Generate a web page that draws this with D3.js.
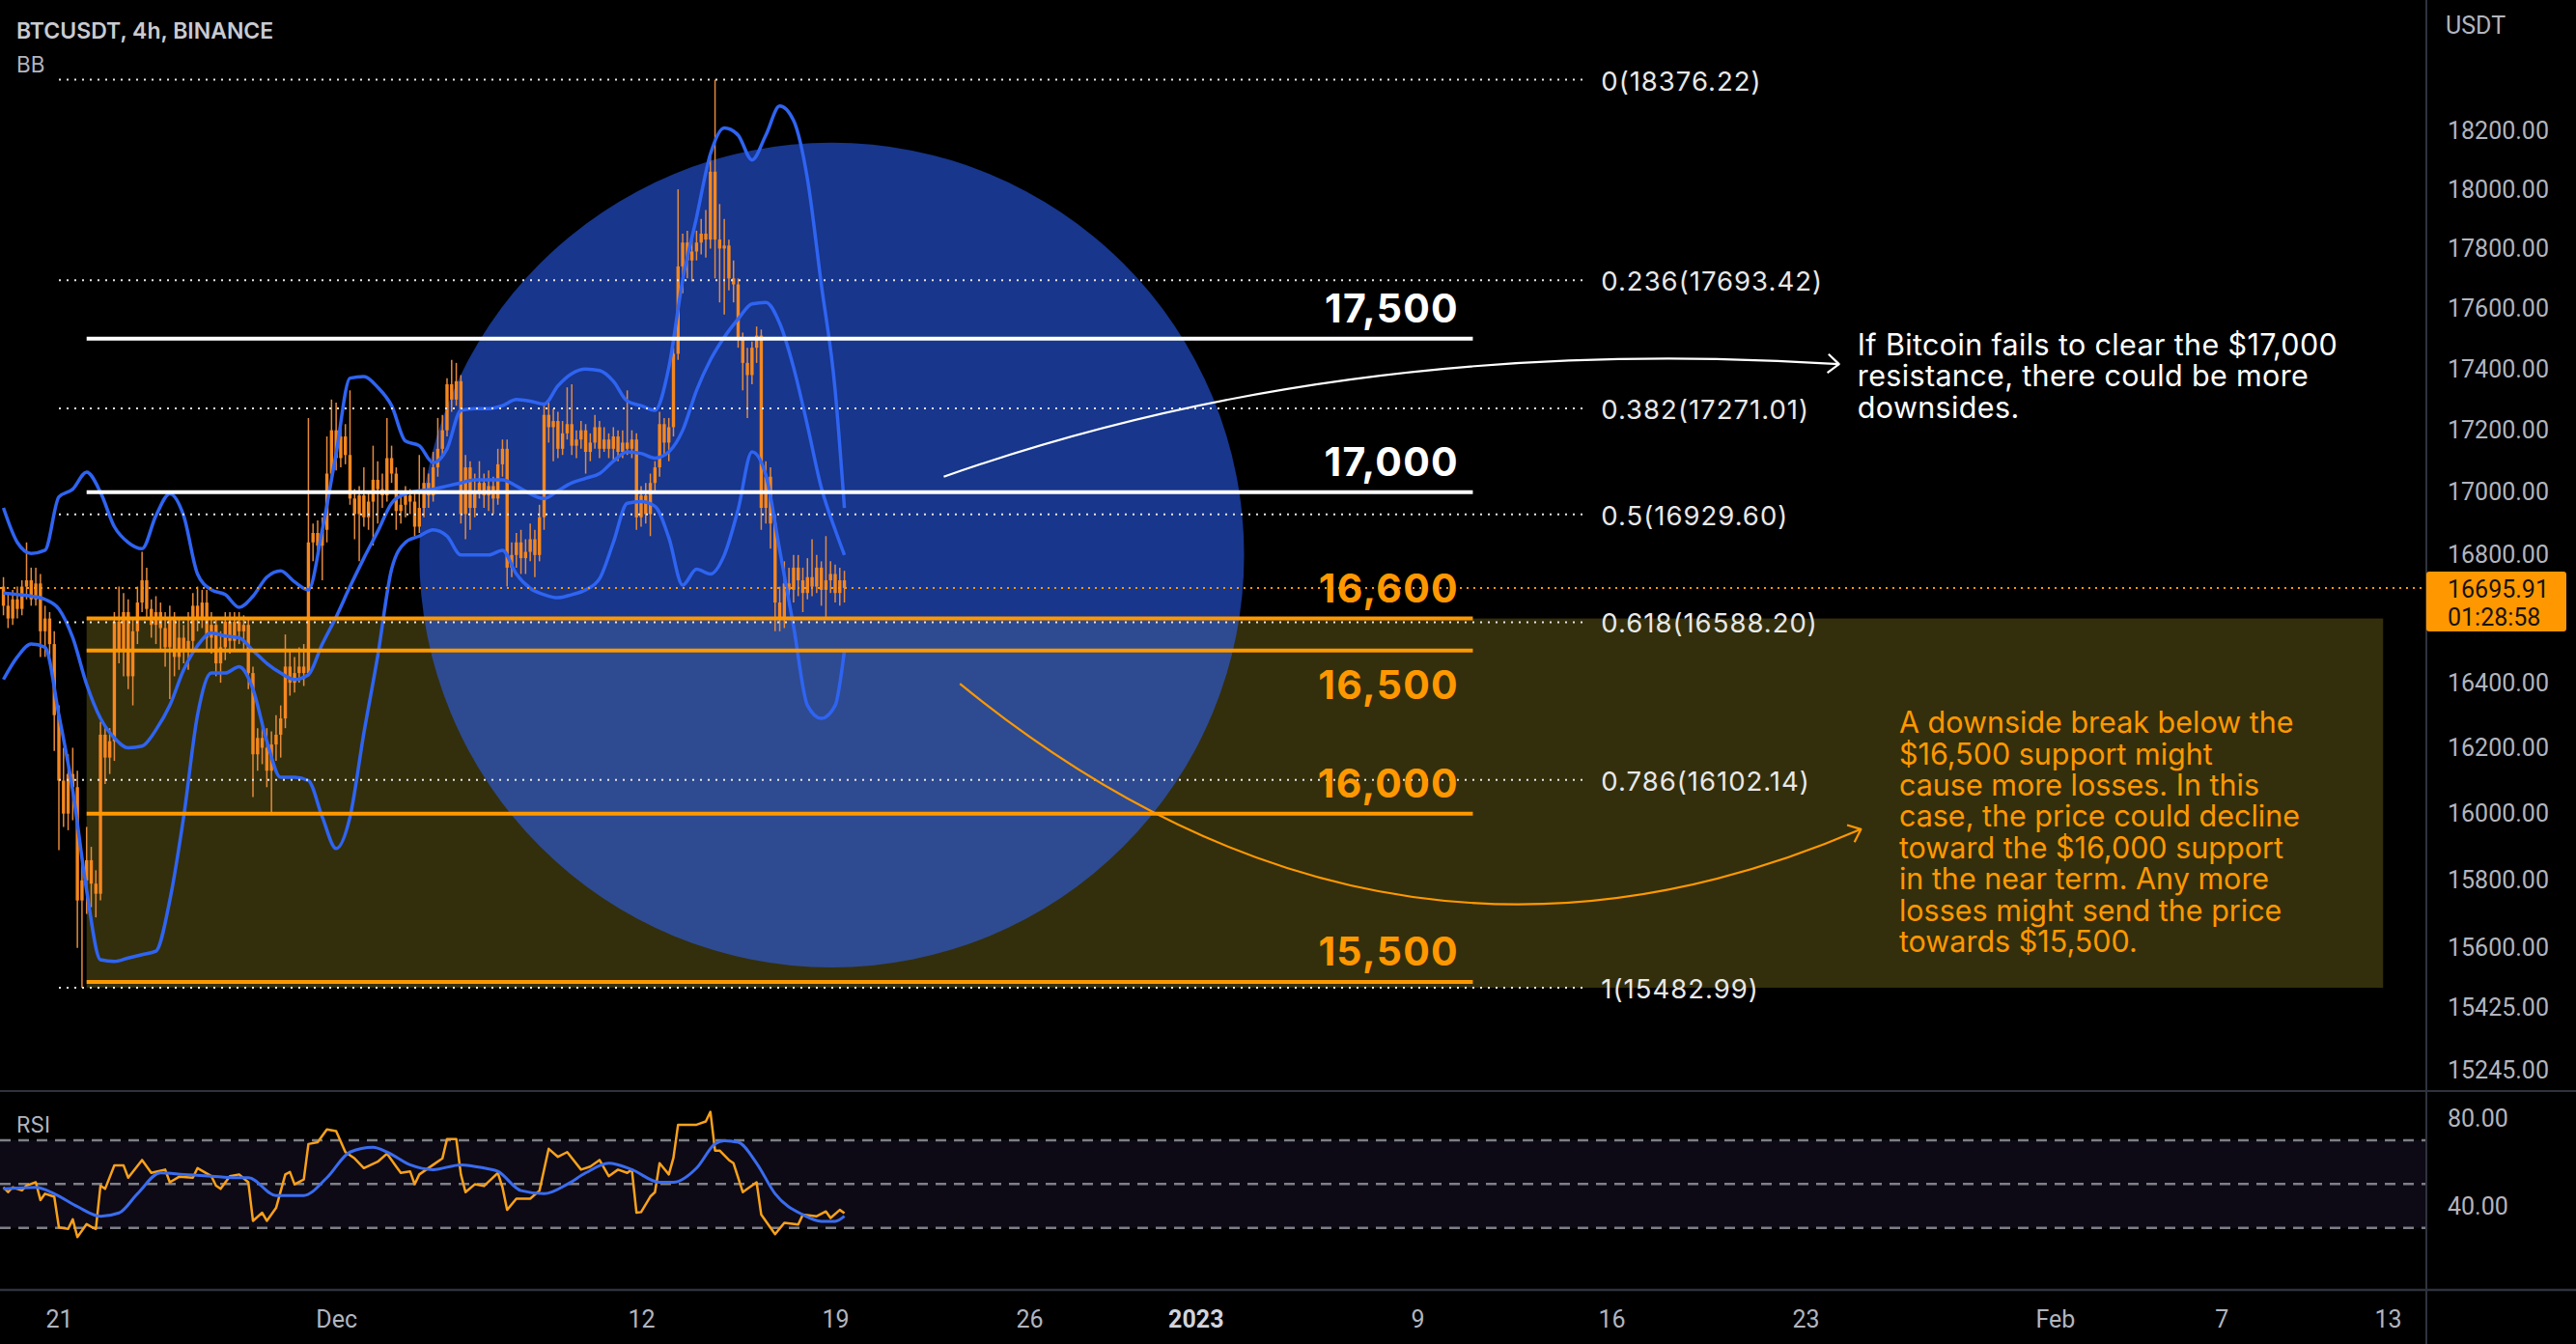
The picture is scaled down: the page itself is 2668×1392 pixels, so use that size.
<!DOCTYPE html>
<html>
<head>
<meta charset="utf-8">
<title>BTCUSDT 4h BINANCE</title>
<script src="https://cdn.jsdelivr.net/npm/d3@7/dist/d3.min.js"></script>
<style>
  html, body { margin:0; padding:0; background:#000; overflow:hidden; }
  svg { display:block; }
</style>
</head>
<body>
<svg id="chart" width="2668" height="1392"></svg>
<script>
// ---------------- DATA ----------------
const chartTitle = "BTCUSDT, 4h, BINANCE";
const candleStart = "2022-11-19T00:00:00Z";
const candleHours = 4;

const opens = [
16700,16640,16600,16660,16630,16700,16720,16660,16710,16560,
16600,16520,16300,16100,16000,16120,16080,15740,15800,15860,
15790,15760,16240,16170,16220,16590,16500,16620,16420,16560,
16650,16720,16630,16580,16620,16570,16510,16600,16480,16540,
16500,16530,16640,16600,16650,16540,16580,16460,16510,16590,
16530,16590,16560,16580,16430,16180,16230,16200,16130,16210,
16240,16290,16450,16400,16430,16450,16430,16840,16870,16830,
16880,17060,17200,17110,17180,17120,16980,16930,16990,16920,
16970,17040,17010,16990,17110,17060,16940,16960,16990,16970,
16890,16950,17030,16990,17080,17140,17200,17350,17300,17360,
16930,17080,16950,17000,17030,16990,17020,16980,17090,17140,
16760,16800,16840,16790,16810,16850,16800,16920,17250,17210,
17230,17140,17190,17220,17150,17170,17200,17130,17160,17210,
17140,17170,17140,17180,17130,17160,17140,17170,16920,16990,
16930,17030,17080,17220,17160,17210,17450,17740,17820,17760,
17790,17820,17850,17830,18060,17830,17800,17810,17700,17680,
17500,17420,17380,17470,17510,16950,17050,16900,16650,16600,
16710,16690,16760,16720,16680,16730,16700,16760,16690,16720,
16740,16680,16720];
const highs = [
16730,16680,16690,16700,16720,16840,16760,16760,16740,16640,
16620,16560,16330,16200,16180,16200,16130,15880,15960,15900,
15830,16280,16260,16260,16620,16700,16680,16660,16600,16700,
16810,16760,16660,16670,16650,16620,16640,16620,16600,16580,
16620,16680,16700,16690,16690,16620,16600,16560,16620,16620,
16620,16620,16610,16600,16450,16260,16280,16260,16250,16300,
16330,16550,16500,16480,16510,16520,17240,16900,16910,16920,
17180,17300,17290,17230,17220,17330,17010,17020,17080,17000,
17150,17100,17060,17240,17150,17080,17000,17020,17010,17000,
17120,17080,17060,17130,17240,17250,17370,17430,17420,17380,
17120,17100,17060,17100,17060,17070,17050,17140,17170,17170,
16840,16870,16880,16850,16900,16880,16960,17280,17290,17270,
17260,17230,17340,17350,17200,17230,17220,17190,17250,17230,
17210,17190,17210,17200,17200,17330,17200,17190,17020,17030,
17060,17100,17260,17240,17240,17470,18000,17850,17860,17830,
17860,17900,17930,18120,18376,17950,17900,17830,17760,17700,
17520,17470,17490,17540,17530,17100,17080,16930,16700,16780,
16760,16800,16800,16760,16790,16850,16800,16780,16860,16780,
16770,16760,16750];
const lows = [
16610,16570,16580,16600,16610,16660,16640,16640,16480,16480,
16480,16190,15890,15960,15950,15980,15600,15483,15700,15720,
15690,15740,16090,16120,16160,16460,16420,16380,16330,16520,
16620,16600,16540,16520,16500,16450,16350,16420,16440,16460,
16440,16500,16560,16570,16500,16490,16420,16400,16470,16490,
16500,16520,16500,16380,16050,16130,16150,16080,16000,16160,
16170,16260,16360,16370,16400,16390,16420,16780,16790,16720,
16840,17040,17070,17080,17090,16960,16850,16780,16890,16880,
16830,16900,16950,16970,17030,16880,16900,16920,16930,16860,
16870,16920,16950,16970,17050,17110,17180,17260,17280,16900,
16850,16880,16920,16980,16950,16940,16930,16960,17050,16700,
16730,16760,16740,16740,16780,16730,16780,16880,17160,17100,
17110,17120,17170,17120,17110,17140,17060,17100,17140,17110,
17130,17110,17100,17100,17110,17120,17110,16880,16890,16900,
16860,17000,17050,17120,17100,17180,17430,17650,17700,17690,
17760,17780,17770,17800,17700,17620,17580,17660,17620,17470,
17330,17240,17350,17420,16880,16900,16820,16560,16560,16570,
16640,16650,16670,16620,16660,16670,16680,16640,16600,16680,
16650,16640,16650];
const closes = [
16640,16600,16660,16630,16700,16720,16660,16710,16560,16600,
16520,16300,16100,16000,16120,16080,15740,15800,15860,15790,
15760,16240,16170,16220,16590,16500,16620,16420,16560,16650,
16720,16630,16580,16620,16570,16510,16600,16480,16540,16500,
16530,16640,16600,16650,16540,16580,16460,16510,16590,16530,
16590,16560,16580,16430,16180,16230,16200,16130,16210,16240,
16290,16450,16400,16430,16450,16430,16840,16870,16830,16880,
17060,17200,17110,17180,17120,16980,16930,16990,16920,16970,
17040,17010,16990,17110,17060,16940,16960,16990,16970,16890,
16950,17030,16990,17080,17140,17200,17350,17300,17360,16930,
17080,16950,17000,17030,16990,17020,16980,17090,17140,16760,
16800,16840,16790,16810,16850,16800,16920,17250,17210,17230,
17140,17190,17220,17150,17170,17200,17130,17160,17210,17140,
17170,17140,17180,17130,17160,17140,17170,16920,16990,16930,
17030,17080,17220,17160,17210,17450,17740,17820,17760,17790,
17820,17850,17830,18060,17830,17800,17810,17700,17680,17500,
17420,17380,17470,17510,16950,17050,16900,16650,16600,16710,
16690,16760,16720,16680,16730,16700,16760,16690,16720,16740,
16680,16720,16696];

// Bollinger Bands (candle index -> price)
const bbIdx = [0,3,6,9,12,15,18,21,24,27,30,33,36,39,42,45,48,51,54,57,60,63,66,69,72,75,78,81,84,87,
               90,93,96,99,102,105,108,111,114,117,120,123,126,129,132,135,138,141,144,147,150,153,156,159,
               162,165,168,171,174,177,180,182];
const bbUpper = [
16950,16840,16805,16815,16985,17010,17065,17000,16890,16840,
16820,16925,16995,16925,16740,16690,16675,16635,16670,16730,
16750,16715,16690,16880,17125,17370,17375,17340,17280,17165,
17150,17095,17140,17265,17270,17270,17280,17300,17295,17285,
17345,17385,17400,17395,17360,17295,17280,17265,17405,17695,
17905,18120,18210,18185,18100,18185,18285,18235,18035,17680,
17330,16950];
const bbBasis = [
16680,16675,16670,16660,16630,16540,16395,16290,16230,16200,
16205,16255,16330,16440,16515,16555,16545,16540,16500,16460,
16430,16410,16425,16520,16605,16700,16790,16875,16965,16995,
17005,17010,17020,17030,17040,17040,17040,17020,16995,16980,
17005,17030,17045,17060,17100,17130,17125,17110,17130,17200,
17330,17430,17505,17565,17615,17620,17550,17405,17215,17015,
16880,16800];
const bbLower = [
16410,16480,16520,16510,16300,16070,15770,15565,15560,15570,
15580,15590,15740,15990,16300,16430,16430,16450,16380,16220,
16110,16110,16100,15990,15895,15990,16245,16483,16755,16840,
16860,16880,16860,16800,16800,16800,16815,16740,16695,16675,
16665,16675,16690,16725,16840,16965,16970,16955,16855,16705,
16755,16740,16800,16945,17130,17055,16815,16575,16330,16290,
16330,16500];

// RSI (candle index, value)
const rsiIdx = [0,1,2,4,5,7,8,9,11,12,14,15,16,18,19,20,21,22,24,26,27,30,32,35,36,38,41,42,45,46,47,49,51,53,54,56,57,59,
  61,62,63,65,66,68,70,72,74,76,78,81,83,85,86,88,89,90,93,95,96,98,99,100,102,104,107,108,109,111,114,116,118,120,122,
  125,127,129,131,133,135,136,137,138,140,141,142,144,145,146,150,152,153,154,155,157,158,160,161,163,164,167,169,172,173,176,178,179,181,182];
const rsiVal = [48.5,46.3,48.5,47.1,49.3,50.8,42.7,45.6,44.2,30.2,29.5,33.9,25.8,31.7,30.5,29.5,49.3,47.8,58.5,58.5,52.9,61.0,55.1,56.6,50.8,53.3,52.9,57.3,53.6,49.3,47.8,53.6,54.4,50.8,33.2,36.9,33.2,39.1,
  54.4,55.5,49.9,52.1,68.3,69.1,75.0,74.2,64.6,61.7,57.3,60.2,63.9,58.0,55.1,55.8,49.9,54.4,58.8,61.7,70.6,70.6,54.4,46.3,49.9,49.1,55.1,48.5,38.2,43.3,43.3,47.0,66.1,62.4,64.6,
  56.6,58.0,61.0,53.6,56.6,55.1,56.6,36.9,37.2,44.3,46.3,59.5,54.4,62.0,77.1,77.1,78.6,83.0,65.3,65.3,61.0,59.5,46.3,47.8,50.8,36.0,27.1,32.3,31.5,36.0,35.3,37.5,34.5,38.2,36.7];
const rsiMaIdx = [0,7,11,16,21,25,29,34,39,45,50,53,59,65,70,75,80,83,88,93,99,104,107,112,117,122,126,131,136,142,145,150,154,156,159,163,167,173,177,180,182];
const rsiMaVal = [47.8,48.5,45.6,39.7,35.3,36.8,45.6,55.1,54.4,53.6,52.9,52.9,44.8,44.8,52.9,64.6,66.8,64.6,58.8,56.6,58.8,57.3,55.8,47.0,45.6,49.9,55.1,59.5,56.6,50.8,50.8,57.3,68.3,69.8,69.1,59.5,45.6,36.0,33.0,33.0,35.3];
const rsiLevels = [70, 50, 30];
const rsiTicks = [80, 40];

// axes
const xDomain = ["2022-11-21T00:00:00Z", "2023-02-13T00:00:00Z"];
const timeTickDates = ["2022-11-21","2022-12-01","2022-12-12","2022-12-19","2022-12-26","2023-01-01","2023-01-09","2023-01-16","2023-01-23","2023-02-01","2023-02-07","2023-02-13"];
const timeTickLabels = ["21","Dec","12","19","26","2023","9","16","23","Feb","7","13"];
const priceTicks = [18200,18000,17800,17600,17400,17200,17000,16800,16400,16200,16000,15800,15600,15425,15245];
const lastPrice = 16695.91;
const countdown = "01:28:58";

// Fibonacci retracement
const fibLevels = [0, 0.236, 0.382, 0.5, 0.618, 0.786, 1];
const fibPrices = [18376.22, 17693.42, 17271.01, 16929.60, 16588.20, 16102.14, 15482.99];
const fibSpan = ["2022-11-21T00:00:00Z", "2023-01-15T00:00:00Z"];

// horizontal key levels
const levelPrices = [17500, 17000, 16600, 16500, 16000, 15500];
const levelKinds  = ["resistance","resistance","support","support","support","support"];
const levelSpan = ["2022-11-22T00:00:00Z", "2023-01-11T00:00:00Z"];
const levelLabelTime = "2023-01-10T12:00:00Z";

// zone box and circle
const boxSpan = ["2022-11-22T00:00:00Z", "2023-02-12T20:00:00Z"];
const boxPrices = [16600, 15482.99];
const circleCenter = ["2022-12-18T21:00:00Z", 16800];
const circleEdgeTime = "2023-01-02T18:00:00Z";

// curved arrows  [time, price]
const arrowResist = [["2022-12-22T22:00:00Z", 17050], ["2023-01-06T14:00:00Z", 17518], ["2023-01-24T05:00:00Z", 17416]];
const arrowSupport = [["2022-12-23T12:00:00Z", 16397], ["2023-01-07T22:00:00Z", 15351], ["2023-01-25T00:00:00Z", 15953]];

// notes
const noteResist = ["If Bitcoin fails to clear the $17,000", "resistance, there could be more", "downsides."];
const noteResistAnchor = ["2023-01-24T21:00:00Z", 17445];
const noteSupport = ["A downside break below the", "$16,500 support might", "cause more losses. In this", "case, the price could decline",
  "toward the $16,000 support", "in the near term. Any more", "losses might send the price", "towards $15,500."];
const noteSupportAnchor = ["2023-01-26T09:00:00Z", 16245];

// ---------------- DRAW ----------------
const W = 2668, H = 1392;
const PANE_R = 2513, MAIN_B = 1130, RSI_B = 1336;
const ORANGE = "#ff9800", AXIS_TXT = "#b2b5be", SEP = "#2e323c";
const BLUE = "#2f64f2";

const svg = d3.select("#chart");
svg.append("rect").attr("width", W).attr("height", H).attr("fill", "#000");

const defs = svg.append("defs");
defs.append("clipPath").attr("id", "clipMain").append("rect")
  .attr("x", 0).attr("y", 0).attr("width", PANE_R).attr("height", MAIN_B);
defs.append("clipPath").attr("id", "clipRsi").append("rect")
  .attr("x", 0).attr("y", MAIN_B).attr("width", PANE_R).attr("height", RSI_B - MAIN_B);

const T = s => new Date(s);
const x = d3.scaleUtc().domain(xDomain.map(T)).range([61, 2473]);
const y = d3.scaleLog().domain([fibPrices[6], fibPrices[0]]).range([1023, 82.5]);
const yR = d3.scaleLinear().domain([30, 70]).range([1271.7, 1181]);
const t0 = +T(candleStart);
const tOf = i => new Date(t0 + i * candleHours * 3600000);
const px = (a) => [x(T(a[0])), y(a[1])];

const main = svg.append("g").attr("clip-path", "url(#clipMain)");

// zone box
main.append("rect")
  .attr("x", x(T(boxSpan[0]))).attr("width", x(T(boxSpan[1])) - x(T(boxSpan[0])))
  .attr("y", y(boxPrices[0])).attr("height", y(boxPrices[1]) - y(boxPrices[0]))
  .attr("fill", "rgba(255,235,59,0.2)");

// circle
const cc = px(circleCenter);
main.append("circle").attr("cx", cc[0]).attr("cy", cc[1])
  .attr("r", x(T(circleEdgeTime)) - cc[0])
  .attr("fill", "rgba(41,98,255,0.55)");

// candles
const idx = d3.range(closes.length);
main.append("g").selectAll("line").data(idx).join("line")
  .attr("x1", i => x(tOf(i))).attr("x2", i => x(tOf(i)))
  .attr("y1", i => y(highs[i])).attr("y2", i => y(lows[i]))
  .attr("stroke", "#e48a3c").attr("stroke-width", 1.5);
main.append("g").selectAll("rect").data(idx).join("rect")
  .attr("x", i => x(tOf(i)) - 1.7).attr("width", 3.4)
  .attr("y", i => y(Math.max(opens[i], closes[i])))
  .attr("height", i => Math.max(1.5, Math.abs(y(opens[i]) - y(closes[i]))))
  .attr("fill", "#f5871f");

// Bollinger bands
const bbLine = d3.line().x((d, k) => x(tOf(bbIdx[k]))).y(d => y(d)).curve(d3.curveMonotoneX);
[bbUpper, bbBasis, bbLower].forEach(arr => {
  main.append("path").attr("d", bbLine(arr)).attr("fill", "none")
    .attr("stroke", BLUE).attr("stroke-width", 3.5).attr("stroke-linejoin", "round");
});

// fib lines
const fibG = svg.append("g");
fibPrices.forEach((p, k) => {
  fibG.append("line").attr("x1", x(T(fibSpan[0]))).attr("x2", x(T(fibSpan[1])))
    .attr("y1", y(p)).attr("y2", y(p))
    .attr("stroke", "#e6e6e6").attr("stroke-width", 2).attr("stroke-dasharray", "2,6");
  fibG.append("text").attr("x", x(T(fibSpan[1])) + 18).attr("y", y(p) + 11)
    .attr("fill", "#e8e8e8").attr("font-family", "Inter, Roboto, sans-serif").attr("font-size", 27.5)
    .attr("letter-spacing", 1.0)
    .text(`${fibLevels[k]}(${p.toFixed(2)})`);
});

// key level lines
const lvlG = svg.append("g");
const fmtK = d3.format(",");
levelPrices.forEach((p, k) => {
  const col = levelKinds[k] === "resistance" ? "#ffffff" : ORANGE;
  lvlG.append("line").attr("x1", x(T(levelSpan[0]))).attr("x2", x(T(levelSpan[1])))
    .attr("y1", y(p)).attr("y2", y(p)).attr("stroke", col).attr("stroke-width", 4);
  const below = (p === 16500);
  lvlG.append("text").attr("x", x(T(levelLabelTime))).attr("y", y(p) + (below ? 50 : -17))
    .attr("text-anchor", "end").attr("fill", col)
    .attr("font-family", "Inter, Roboto, sans-serif").attr("font-weight", 700).attr("font-size", 41)
    .attr("letter-spacing", 1.3)
    .text(fmtK(p));
});

// last price line
svg.append("line").attr("x1", 0).attr("x2", PANE_R).attr("y1", y(lastPrice)).attr("y2", y(lastPrice))
  .attr("stroke", ORANGE).attr("stroke-width", 2).attr("stroke-dasharray", "2,5");

// curved arrows
function drawArrow(pts, color) {
  const [p0, c, p2] = pts.map(px);
  const path = d3.path();
  path.moveTo(p0[0], p0[1]);
  path.quadraticCurveTo(c[0], c[1], p2[0], p2[1]);
  svg.append("path").attr("d", path.toString()).attr("fill", "none")
    .attr("stroke", color).attr("stroke-width", 2.2);
  const dx = p2[0] - c[0], dy = p2[1] - c[1], L = Math.hypot(dx, dy);
  const ux = dx / L, uy = dy / L, len = 15, ang = 40 * Math.PI / 180;
  const arm = s => [p2[0] - len * (ux * Math.cos(ang) - s * uy * Math.sin(ang)),
                    p2[1] - len * (uy * Math.cos(ang) + s * ux * Math.sin(ang))];
  const a1 = arm(1), a2 = arm(-1);
  svg.append("path").attr("d", `M${a1[0]},${a1[1]}L${p2[0]},${p2[1]}L${a2[0]},${a2[1]}`)
    .attr("fill", "none").attr("stroke", color).attr("stroke-width", 2.2).attr("stroke-linejoin", "round");
}
drawArrow(arrowResist, "#ffffff");
drawArrow(arrowSupport, ORANGE);

// notes
function drawNote(lines, anchor, color, spacing) {
  const a = px(anchor);
  const t = svg.append("text").attr("fill", color)
    .attr("font-family", "Inter, Roboto, sans-serif").attr("font-size", 30.5)
    .attr("letter-spacing", spacing);
  lines.forEach((ln, k) => t.append("tspan").attr("x", a[0]).attr("y", a[1] + k * 32.4).text(ln));
}
drawNote(noteResist, noteResistAnchor, "#ffffff", 0.35);
drawNote(noteSupport, noteSupportAnchor, ORANGE, 0);

// ---------- RSI pane ----------
const rsiG = svg.append("g").attr("clip-path", "url(#clipRsi)");
rsiG.append("rect").attr("x", 0).attr("width", PANE_R)
  .attr("y", yR(70)).attr("height", yR(30) - yR(70)).attr("fill", "#0d0a15");
rsiLevels.forEach(v => {
  rsiG.append("line").attr("x1", 0).attr("x2", PANE_R).attr("y1", yR(v)).attr("y2", yR(v))
    .attr("stroke", "#7d7f86").attr("stroke-width", 2.5).attr("stroke-dasharray", "11,8");
});
const rsiLine = d3.line().x((d, k) => x(tOf(rsiIdx[k]))).y(d => yR(d));
rsiG.append("path").attr("d", rsiLine(rsiVal)).attr("fill", "none")
  .attr("stroke", "#f9a11b").attr("stroke-width", 2.5).attr("stroke-linejoin", "round");
const rsiMaLine = d3.line().x((d, k) => x(tOf(rsiMaIdx[k]))).y(d => yR(d)).curve(d3.curveMonotoneX);
rsiG.append("path").attr("d", rsiMaLine(rsiMaVal)).attr("fill", "none")
  .attr("stroke", "#3a6cf0").attr("stroke-width", 3);

// ---------- separators ----------
svg.append("line").attr("x1", 0).attr("x2", W).attr("y1", MAIN_B).attr("y2", MAIN_B).attr("stroke", SEP).attr("stroke-width", 2);
svg.append("line").attr("x1", 0).attr("x2", W).attr("y1", RSI_B).attr("y2", RSI_B).attr("stroke", SEP).attr("stroke-width", 2.5);
svg.append("line").attr("x1", PANE_R).attr("x2", PANE_R).attr("y1", 0).attr("y2", H).attr("stroke", SEP).attr("stroke-width", 2);

// ---------- axes ----------
function styleAxis(g) {
  g.select(".domain").remove();
  g.attr("font-family", "Roboto, sans-serif").attr("font-size", 25);
  g.selectAll("text").attr("fill", AXIS_TXT);
}
const yAxis = d3.axisRight(y).tickValues(priceTicks).tickFormat(d3.format(".2f")).tickSize(0).tickPadding(22);
svg.append("g").attr("transform", `translate(${PANE_R},0)`).call(yAxis).call(styleAxis);

const rAxis = d3.axisRight(yR).tickValues(rsiTicks).tickFormat(d3.format(".2f")).tickSize(0).tickPadding(22);
svg.append("g").attr("transform", `translate(${PANE_R},0)`).call(rAxis).call(styleAxis);

const tDates = timeTickDates.map(s => new Date(s + "T00:00:00Z"));
const xAxis = d3.axisBottom(x).tickValues(tDates).tickFormat((d, i) => timeTickLabels[i]).tickSize(0).tickPadding(21);
const xg = svg.append("g").attr("transform", `translate(0,${RSI_B})`).call(xAxis).call(styleAxis);
xg.selectAll("text").filter((d, i) => timeTickLabels[i] === "2023").attr("font-weight", 700).attr("fill", "#d1d4dc");

// price tag
const py = y(lastPrice);
svg.append("rect").attr("x", PANE_R).attr("y", py - 17).attr("width", 145).attr("height", 62)
  .attr("rx", 3).attr("fill", ORANGE);
svg.append("text").attr("x", PANE_R + 22).attr("y", py + 10).attr("fill", "#17130c")
  .attr("font-family", "Roboto, sans-serif").attr("font-size", 25).text(d3.format(".2f")(lastPrice));
svg.append("text").attr("x", PANE_R + 22).attr("y", py + 39).attr("fill", "#17130c")
  .attr("font-family", "Roboto, sans-serif").attr("font-size", 25).text(countdown);

// headers
svg.append("text").attr("x", PANE_R + 20).attr("y", 35).attr("fill", AXIS_TXT)
  .attr("font-family", "Roboto, sans-serif").attr("font-size", 25).text("USDT");
svg.append("text").attr("x", 17).attr("y", 40).attr("fill", "#c9cbd1")
  .attr("font-family", "Inter, 'Open Sans', sans-serif").attr("font-weight", 600).attr("font-size", 23).text(chartTitle);
svg.append("text").attr("x", 17).attr("y", 75).attr("fill", AXIS_TXT)
  .attr("font-family", "Inter, 'Open Sans', sans-serif").attr("font-size", 22.5).text("BB");
svg.append("text").attr("x", 17).attr("y", 1173).attr("fill", AXIS_TXT)
  .attr("font-family", "Inter, 'Open Sans', sans-serif").attr("font-size", 22.5).text("RSI");
</script>
</body>
</html>
